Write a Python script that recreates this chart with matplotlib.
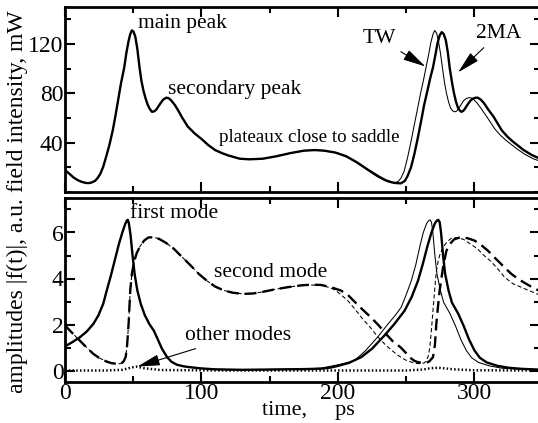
import matplotlib
matplotlib.use('Agg')
import matplotlib.pyplot as plt
from matplotlib.ticker import MultipleLocator

plt.rcParams['font.family'] = ['Liberation Serif', 'DejaVu Serif']

# ---- top panel: field intensity, mW (2MA = thick, TW = thin) ----
t_2ma = [0, 3, 6, 9, 12, 15, 17, 19, 22, 24, 26, 28, 30, 32.5, 35, 37, 39, 41,
         43.4, 45, 46.5, 47.8, 49, 50.2, 51.5, 53, 54.6, 56, 57.5, 59, 60.5, 62,
         63.7, 65.5, 67, 68.5, 70, 72, 74.3, 76, 78, 80.5, 83, 86, 90, 95, 100,
         105, 110, 115, 120, 128, 135, 145, 155, 165, 175, 183, 190, 198, 206,
         214, 222, 230, 235, 239, 242, 246, 249, 251, 253.5, 256, 258.5, 261,
         263, 265.5, 267.5, 269.6, 271.5, 273, 274.5, 276, 277.5, 279, 280.5,
         281.8, 283.5, 285, 286.5, 288, 289.3, 290.4, 291.8, 293, 295, 297, 299,
         301, 302.5, 304.5, 307, 310, 314, 320, 324, 328, 332, 336, 342, 348]
p_2ma = [17.8, 15, 12, 9.8, 8.3, 7.4, 7.2, 7.5, 9, 11.5, 15, 20.5, 28, 38, 50,
         62, 75, 88, 101, 113, 122, 128, 131, 130, 126, 116, 101, 90, 82, 76,
         71, 67.5, 65, 65.5, 67, 69.5, 72, 75, 76.5, 76, 74, 70.5, 66, 60, 53,
         47.5, 43, 38, 34, 31.5, 29.5, 27, 26.5, 27, 29, 31.5, 33.5, 34, 33.5,
         32, 29, 24, 18, 12.5, 9.5, 8, 7.3, 7, 9, 13, 20, 31, 44, 58,
         70, 82, 92, 101, 112, 121, 127, 129.6, 128, 123, 113,
         101, 89, 80, 73, 68, 66, 65, 65.8, 67.5, 71, 74, 75.8,
         76.5, 76.4, 75, 72, 67, 61, 50, 45, 41, 37.5, 34, 30, 27]

t_tw = [0, 3, 6, 9, 12, 15, 17, 19, 22, 24, 26, 28, 30, 32.5, 35, 37, 39, 41,
        43.4, 45, 46.5, 47.8, 49, 50.2, 51.5, 53, 54.6, 56, 57.5, 59, 60.5, 62,
        63.7, 65.5, 67, 68.5, 70, 72, 74.3, 76, 78, 80.5, 83, 86, 90, 95, 100,
        105, 110, 115, 120, 128, 135, 145, 155, 165, 175, 183, 190, 200, 208,
        216, 224, 228, 232, 236, 239, 241.4, 244, 246, 248.5, 251, 253.5, 256,
        258, 260.5, 262.5, 264.5, 266.5, 268, 269.5, 270.8, 272.2, 273.5, 275,
        276.5, 278, 279.5, 281, 282.5, 284, 285.5, 286.8, 288, 290, 292, 294,
        296, 297.5, 299.5, 302, 305, 309, 315, 319, 323, 327, 331, 337, 343, 348]
p_tw = [17.8, 15, 12, 9.8, 8.3, 7.4, 7.2, 7.5, 9, 11.5, 15, 20.5, 28, 38, 50,
        62, 75, 88, 101, 113, 122, 128, 131, 130, 126, 116, 101, 90, 82, 76,
        71, 67.5, 65, 65.5, 67, 69.5, 72, 75, 76.5, 76, 74, 70.5, 66, 60, 53,
        47.5, 43, 38, 34, 31.5, 29.5, 27, 26.5, 27, 29, 31.5, 33.5, 34, 33.5,
        31.5, 27.5, 22, 16, 13, 10.5, 8.5, 7.6, 7.4, 8.5, 11, 17, 28, 41, 55,
        66, 80, 90, 101, 112, 121, 127.5, 131, 129, 123, 113,
        101, 89, 80, 73, 68, 65.8, 65, 65.5, 67, 70.5, 74, 75.8,
        76.5, 76.3, 75, 72, 67.5, 61, 51, 46, 42, 38.5, 35, 30.5, 27, 25]

# ---- bottom panel: mode amplitudes (thick = 2MA, thin = TW) ----
t_m1 = [0, 5, 11, 16, 20.8, 24.5, 28, 30.6, 33.5, 36.5, 39.5, 42, 44, 45.3, 46,
        46.8, 48, 49.5, 51, 53, 55.5, 58.5, 62, 65, 68, 71, 74.8, 78, 82, 87,
        92, 100, 110, 130, 160, 175, 187.5, 195, 200, 208, 217, 225, 234, 241,
        248.8, 254, 258.6, 262, 265.5, 268.5, 271, 272.5, 273.5, 274.5, 275.5,
        277, 278.5, 281, 283.5, 288, 292, 296, 300, 304, 309, 317, 325, 335, 348]
a_m1 = [1.05, 1.22, 1.45, 1.7, 2.03, 2.4, 2.9, 3.48, 4.1, 4.8, 5.5, 6.0, 6.35,
        6.52, 6.55, 6.4, 5.9, 5.0, 4.2, 3.48, 2.9, 2.4, 2.0, 1.74, 1.35, 0.95,
        0.58, 0.38, 0.25, 0.18, 0.14, 0.09, 0.05, 0.03, 0.05, 0.06, 0.08, 0.13,
        0.2, 0.33, 0.58, 0.95, 1.52, 2.0, 2.6, 3.2, 3.9, 4.6, 5.4, 6.0, 6.4,
        6.52, 6.55, 6.45, 6.0, 5.0, 4.2, 3.48, 2.95, 2.48, 1.95, 1.35, 0.87,
        0.55, 0.35, 0.2, 0.12, 0.07, 0.04]

t_m1_tw = [0, 5, 11, 16, 20.8, 24.5, 28, 30.6, 33.5, 36.5, 39.5, 42, 44, 45.3,
           46, 46.8, 48, 49.5, 51, 53, 55.5, 58.5, 62, 65, 68, 71, 74.8, 78, 82,
           87, 92, 100, 110, 130, 160, 175, 187.5, 200, 206, 212, 220, 229, 237,
           242, 246.3, 250, 253.7, 257, 260, 262.5, 265, 266.5, 267.5, 268.5,
           269.5, 271, 272.5, 275, 277.5, 282, 286, 290, 294, 298, 303, 311, 320,
           335, 348]
a_m1_tw = [1.05, 1.22, 1.45, 1.7, 2.03, 2.4, 2.9, 3.48, 4.1, 4.8, 5.5, 6.0, 6.35,
           6.52, 6.55, 6.4, 5.9, 5.0, 4.2, 3.48, 2.9, 2.4, 2.0, 1.74, 1.35, 0.95,
           0.58, 0.38, 0.25, 0.18, 0.14, 0.09, 0.05, 0.03, 0.05, 0.07, 0.1, 0.25,
           0.33, 0.43, 0.85, 1.45, 2.05, 2.4, 2.75, 3.3, 3.9, 4.6, 5.4, 6.0, 6.4,
           6.52, 6.55, 6.45, 6.0, 5.0, 4.2, 3.48, 2.95, 2.48, 1.95, 1.35, 0.87,
           0.55, 0.35, 0.2, 0.1, 0.05, 0.03]

t_m2 = [0, 5, 10, 15, 20.8, 25, 30, 34, 38, 41, 43, 44.5, 45.5, 46.6, 47.8, 49,
        50.5, 52.5, 55, 58, 61, 65, 69, 74, 79.6, 85, 92, 98, 104, 110, 116.4,
        123, 131, 138, 145, 153, 163, 172.8, 180, 187.5, 195, 202, 207, 212,
        218, 224, 230, 235, 240, 246, 250, 253, 256, 258.6, 262, 264.7, 267,
        269.6, 271, 272, 273.3, 274.5, 277, 279.4, 282, 285, 290, 295, 300, 305,
        310, 314, 318, 322, 327, 332, 337, 342, 347]
a_m2 = [1.96, 1.65, 1.35, 1.05, 0.72, 0.55, 0.4, 0.32, 0.29, 0.3, 0.4, 0.6, 1.1,
        2.03, 3.48, 4.2, 4.7, 5.1, 5.4, 5.65, 5.78, 5.8, 5.72, 5.55, 5.3, 4.98,
        4.57, 4.2, 3.9, 3.65, 3.48, 3.38, 3.33, 3.35, 3.42, 3.52, 3.62, 3.7,
        3.73, 3.72, 3.62, 3.48, 3.3, 3.0, 2.65, 2.32, 1.95, 1.6, 1.28, 1.0,
        0.75, 0.55, 0.42, 0.36, 0.33, 0.33, 0.4, 0.58, 1.1, 2.0, 2.8, 3.48,
        4.5, 5.2, 5.5, 5.7, 5.8, 5.75, 5.65, 5.45, 5.2, 4.95, 4.72, 4.48, 4.2,
        3.98, 3.8, 3.63, 3.48]

t_m2_tw = [0, 5, 10, 15, 20.8, 25, 30, 34, 38, 41, 43, 44.5, 45.5, 46.6, 47.8,
           49, 50.5, 52.5, 55, 58, 61, 65, 69, 74, 79.6, 85, 92, 98, 104, 110,
           116.4, 123, 131, 138, 145, 153, 163, 172.8, 180, 187.5, 193, 198, 203,
           207, 212, 217, 221, 224, 228, 231.6, 236, 240, 243, 246, 249, 252,
           255, 258.6, 261, 263, 264.5, 266, 267.3, 268.4, 269.6, 270.8, 272,
           273.5, 275, 277, 280, 283, 287, 292, 297, 302, 307, 312, 317, 322,
           328, 335, 341, 347]
a_m2_tw = [1.96, 1.65, 1.35, 1.05, 0.72, 0.55, 0.4, 0.32, 0.29, 0.3, 0.4, 0.6,
           1.1, 2.03, 3.48, 4.2, 4.7, 5.1, 5.4, 5.65, 5.78, 5.8, 5.72, 5.55, 5.3,
           4.98, 4.57, 4.2, 3.9, 3.65, 3.48, 3.38, 3.33, 3.35, 3.42, 3.52, 3.62,
           3.7, 3.72, 3.7, 3.62, 3.5, 3.25, 3.05, 2.7, 2.32, 2.05, 1.85, 1.55,
           1.3, 1.05, 0.85, 0.7, 0.58, 0.47, 0.4, 0.34, 0.3, 0.3, 0.33, 0.4, 0.6,
           1.0, 1.74, 2.6, 3.48, 4.3, 4.8, 5.1, 5.35, 5.6, 5.75, 5.78, 5.7, 5.5,
           5.3, 5.0, 4.75, 4.42, 4.06, 3.78, 3.6, 3.45, 3.3]

t_other = [0, 30, 42, 48, 52, 58, 70, 120, 200, 250, 262, 268, 274, 285, 300, 348]
a_other = [0.0, 0.0, 0.03, 0.12, 0.17, 0.1, 0.02, 0.0, 0.0, 0.0, 0.04, 0.1,
           0.12, 0.05, 0.01, 0.0]

fig = plt.figure(figsize=(5.38, 4.23), dpi=100)
W, H = 538.0, 423.0
ax1 = fig.add_axes([65 / W, (H - 192) / H, 475 / W, 185 / H])
ax2 = fig.add_axes([65 / W, (H - 382) / H, 475 / W, 184 / H])

thick = 1.7
thin = 0.75

ax1.plot(t_tw, p_tw, color='k', lw=thin)
ax1.plot(t_2ma, p_2ma, color='k', lw=thick)
ax1.set_ylim(0, 150)
ax1.set_yticks([40, 80, 120])
ax1.yaxis.set_minor_locator(MultipleLocator(20))
ax1.set_ylabel('field intensity, mW', fontsize=17)
ax1.yaxis.set_label_coords(-0.078, 0.49)

ax2.plot(t_other, a_other, color='k', lw=1.8, linestyle=(0, (0.6, 0.9)))
ax2.plot(t_m2_tw, a_m2_tw, color='k', lw=thin, dashes=(4, 2.5))
ax2.plot(t_m2, a_m2, color='k', lw=thick, dashes=(5, 2.5))
ax2.plot(t_m1_tw, a_m1_tw, color='k', lw=thin)
ax2.plot(t_m1, a_m1, color='k', lw=thick)
ax2.set_ylim(-0.5, 7.5)
ax2.yaxis.set_major_locator(MultipleLocator(2))
ax2.yaxis.set_minor_locator(MultipleLocator(1))
ax2.set_ylabel('amplitudes |f(t)|, a.u.', fontsize=17)
ax2.yaxis.set_label_coords(-0.078, 0.47)
ax2.set_xlabel('time,     ps', fontsize=16)
ax2.xaxis.set_label_coords(0.512, -0.104)

for ax in (ax1, ax2):
    ax.set_xlim(0, 348)
    ax.xaxis.set_major_locator(MultipleLocator(100))
    ax.xaxis.set_minor_locator(MultipleLocator(50))
    ax.tick_params(which='both', direction='in', top=True, right=True,
                   width=1.5, labelsize=17)
    ax.tick_params(axis='y', pad=1)
    ax.tick_params(axis='x', pad=1)
    ax.tick_params(which='major', length=7)
    ax.tick_params(which='minor', length=4)
    for s in ax.spines.values():
        s.set_linewidth(2)
ax1.tick_params(labelbottom=False)

arrow = dict(arrowstyle='-|>,head_length=0.9,head_width=0.22', color='k',
             lw=0.8, shrinkA=2, shrinkB=0)

ax1.text(53.7, 136.5, 'main peak', fontsize=15.5, ha='left', va='center')
ax1.text(75.7, 83, 'secondary peak', fontsize=15.5, ha='left', va='center')
ax1.text(112.5, 44.4, 'plateaux close to saddle', fontsize=13.7, ha='left',
         va='center')
ax1.annotate('TW', xy=(264, 101.8), xytext=(230, 124.4), fontsize=15.5,
             ha='center', va='center', arrowprops=arrow)
ax1.annotate('2MA', xy=(288, 97), xytext=(317.6, 128.5), fontsize=15.5,
             ha='center', va='center', arrowprops=arrow)

ax2.text(47.8, 6.83, 'first mode', fontsize=15.5, ha='left', va='center')
ax2.text(108.8, 4.26, 'second mode', fontsize=15.5, ha='left', va='center')
ax2.annotate('other modes', xy=(53, 0.17), xytext=(88, 1.52), fontsize=15.5,
             ha='left', va='center', arrowprops=arrow)

fig.savefig('out.png', dpi=100)
